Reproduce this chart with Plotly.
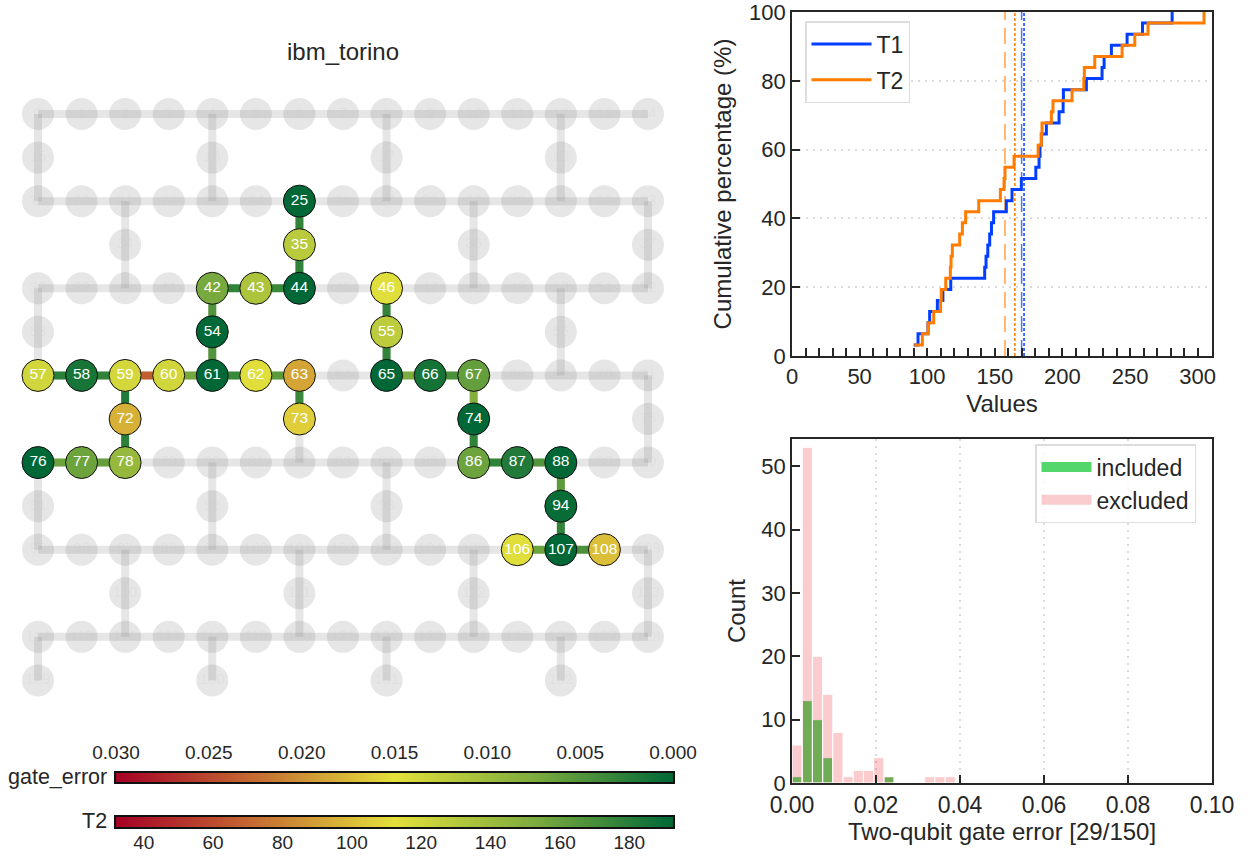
import numpy as np
import plotly.graph_objects as go
from plotly.colors import sample_colorscale

W, H = 1254, 859

# ---------- data ----------
qubits = [25, 35, 42, 43, 44, 46, 54, 55, 57, 58, 59, 60, 61, 62, 63, 65,
          66, 67, 72, 73, 74, 76, 77, 78, 86, 87, 88, 94, 106, 107, 108]
qubit_t2 = [195, 129, 154, 134, 195, 114, 195, 128, 120, 185, 119, 120, 195, 114, 92, 195,
            186, 160, 96, 106, 195, 195, 158, 143, 158, 182, 195, 190, 114, 195, 101]

edge_src = [25, 35, 42, 43, 42, 54, 57, 58, 59, 60, 61, 62, 63, 59, 72, 76, 77,
            46, 55, 65, 66, 67, 74, 86, 87, 88, 94, 106, 107]
edge_dst = [35, 44, 43, 44, 54, 61, 58, 59, 60, 61, 62, 63, 73, 72, 78, 77, 78,
            55, 65, 66, 67, 74, 86, 87, 88, 94, 107, 107, 108]
edge_error = [.003, .003, .003, .0035, .005, .005, .0025, .003, .0235, .007, .0035, .0055, .0035, .002, .0025, .0065, .006,
              .003, .003, .0075, .0045, .008, .003, .003, .005, .0055, .003, .0065, .0045]

t1_values = [90.0, 93.2, 100.6, 101.8, 107.5, 111.6, 117.4, 142.5, 143.5, 144.8, 146.2, 147.5, 149.1,
             158.5, 162.7, 169.6, 180.3, 182.7, 183.4, 184.4, 188.1, 197.5, 200.5, 200.7,
             217.7, 229.3, 230.8, 236.2, 247.8, 259.2, 281.1]
t2_values = [90.4, 96.4, 100.6, 104.8, 109.9, 110.4, 113.7, 117.1, 117.6, 118.6, 124.0, 126.0, 128.4,
             138.1, 154.1, 156.8, 157.5, 164.2, 182.0, 184.4, 184.9, 191.8, 193.0, 207.1,
             215.8, 216.2, 223.9, 244.1, 253.5, 263.3, 304.7]
t1_median, t1_mean = 169.8, 171.6
t2_median, t2_mean = 157.5, 164.8

hist_bins = [0.00122, 0.00365, 0.00608, 0.00851, 0.01094, 0.01337, 0.0158, 0.01823, 0.02066,
             0.02309, 0.03281, 0.03524, 0.03767]
hist_included = [1, 13, 10, 4, 0, 0, 0, 0, 0, 1, 0, 0, 0]
hist_excluded = [6, 53, 20, 14, 8, 1, 2, 2, 4, 1, 1, 1, 1]
hist_width = 0.00243

gate_ticks = [0.030, 0.025, 0.020, 0.015, 0.010, 0.005, 0.000]
t2_ticks = [40, 60, 80, 100, 120, 140, 160, 180]
gate_range = [0.030, 0.0]
t2_range = [32.0, 192.6]

# ---------- style ----------
FONT = "Liberation Sans"
INK = "#262626"
BLUE, ORANGE = "#023eff", "#ff7c00"
SCALE = [[0.0, "rgb(165,0,38)"], [0.25, "rgb(197,108,50)"], [0.5, "rgb(228,224,58)"],
         [0.75, "rgb(125,172,62)"], [1.0, "rgb(0,104,55)"]]


def dom_x(a, b):
    return [a / W, b / W]


def dom_y(top, bottom):
    return [1 - bottom / H, 1 - top / H]


# ---------- heavy-hex device layout (ibm_torino) ----------
H_STARTS = [0, 19, 38, 57, 76, 95, 114]
LINK_STARTS = [15, 34, 53, 72, 91, 110, 129]
LINK_COLS = [[0, 4, 8, 12], [2, 6, 10, 14]]
pos = {}
links = []
for r, s in enumerate(H_STARTS):
    for c in range(15):
        pos[s + c] = (c, 2 * r)
        if c:
            links.append((s + c - 1, s + c))
for r, s in enumerate(LINK_STARTS):
    for i, c in enumerate(LINK_COLS[r % 2]):
        q = s + i
        pos[q] = (c, 2 * r + 1)
        links.append((H_STARTS[r] + c, q))
        if r + 1 < len(H_STARTS):
            links.append((q, H_STARTS[r + 1] + c))

fig = go.Figure()

# background device
bx, by = [], []
for a, b in links:
    bx += [pos[a][0], pos[b][0], None]
    by += [pos[a][1], pos[b][1], None]
fig.add_trace(go.Scatter(x=bx, y=by, mode="lines", showlegend=False, hoverinfo="skip",
                         line=dict(color="rgba(128,128,128,0.2)", width=8), xaxis="x", yaxis="y"))
all_q = sorted(pos)
fig.add_trace(go.Scatter(x=[pos[q][0] for q in all_q], y=[pos[q][1] for q in all_q],
                         mode="markers+text", text=[str(q) for q in all_q], showlegend=False, hoverinfo="skip",
                         textfont=dict(family=FONT, size=15, color="rgba(200,200,200,0.2)"),
                         marker=dict(size=32, color="rgba(128,128,128,0.2)", line=dict(width=0)),
                         xaxis="x", yaxis="y"))
# active edges
for a, b, e in zip(edge_src, edge_dst, edge_error):
    t = (gate_range[0] - e) / (gate_range[0] - gate_range[1])
    col = sample_colorscale(SCALE, [t])[0]
    fig.add_trace(go.Scatter(x=[pos[a][0], pos[b][0]], y=[pos[a][1], pos[b][1]], mode="lines",
                             showlegend=False, line=dict(color=col, width=8), xaxis="x", yaxis="y",
                             hovertemplate=f"{a}-{b}: {e}<extra></extra>"))
# active qubits
fig.add_trace(go.Scatter(x=[pos[q][0] for q in qubits], y=[pos[q][1] for q in qubits],
                         mode="markers+text", text=[str(q) for q in qubits], showlegend=False,
                         textposition="middle center",
                         textfont=dict(family=FONT, size=15.5, color="white"),
                         marker=dict(size=32, color=qubit_t2, cmin=t2_range[0], cmax=t2_range[1],
                                     colorscale=SCALE, line=dict(width=1, color="#111111")),
                         xaxis="x", yaxis="y"))

# colour ramps (legend gradients, not data)
gate_ramp = np.linspace(gate_range[0], gate_range[1], 256)
t2_ramp = np.linspace(t2_range[0], t2_range[1], 256)
fig.add_trace(go.Heatmap(x=gate_ramp, y=[0], z=[gate_ramp], zmin=0, zmax=0.03, showscale=False,
                         colorscale=[[1 - p, c] for p, c in reversed(SCALE)], xaxis="x4", yaxis="y4", hoverinfo="skip"))
fig.add_trace(go.Heatmap(x=t2_ramp, y=[0], z=[t2_ramp], zmin=t2_range[0], zmax=t2_range[1], showscale=False,
                         colorscale=SCALE, xaxis="x5", yaxis="y5", hoverinfo="skip"))

# CDF panel
for v, col, dash, w, op in [(t2_median, ORANGE, "16px,8px", 1.5, .7), (t2_mean, ORANGE, "3px,2px", 1.5, 1),
                            (t1_median, BLUE, "16px,8px", 1.5, .7), (t1_mean, BLUE, "3px,2px", 1.5, 1)]:
    fig.add_trace(go.Scatter(x=[v, v], y=[0, 100], mode="lines", showlegend=False, opacity=op,
                             line=dict(color=col, width=w, dash=dash), xaxis="x2", yaxis="y2"))
for name, vals, col in [("T1", t1_values, BLUE), ("T2", t2_values, ORANGE)]:
    pct = [100 * (i + 1) / len(vals) for i in range(len(vals))]
    fig.add_trace(go.Scatter(x=vals, y=pct, mode="lines", name=name, legendgroup=name,
                             line=dict(color=col, width=3, shape="hv"), xaxis="x2", yaxis="y2", legend="legend"))

# histogram panel
GREEN_BAR, RED_BAR = "rgba(26,201,56,0.75)", "rgba(232,0,11,0.2)"
fig.add_trace(go.Bar(x=hist_bins, y=hist_included, width=hist_width, name="included", showlegend=False,
                     marker=dict(color=GREEN_BAR, line=dict(color="white", width=1)),
                     xaxis="x3", yaxis="y3"))
fig.add_trace(go.Bar(x=hist_bins, y=hist_excluded, width=hist_width, name="excluded", showlegend=False,
                     marker=dict(color=RED_BAR, line=dict(color="white", width=1)),
                     xaxis="x3", yaxis="y3"))
# wide legend swatches for the two histogram series
for name, col in [("included", GREEN_BAR), ("excluded", RED_BAR)]:
    fig.add_trace(go.Scatter(x=[None], y=[None], mode="lines", name=name, legendgroup=name,
                             line=dict(color=col, width=13), xaxis="x3", yaxis="y3", legend="legend2"))

UNIT = 43.57
box = dict(showline=True, linecolor=INK, linewidth=1.8, mirror=True, zeroline=False,
           tickcolor=INK, tickwidth=1.5, ticks="inside", ticklen=8, ticklabeloverflow="allow")
tick_font = dict(family=FONT, size=22, color=INK)
tick_font_b = dict(family=FONT, size=23, color=INK)
title_font = dict(family=FONT, size=24, color=INK)
grid = dict(showgrid=True, gridcolor="#dcdcdc", griddash="2px,5px", gridwidth=2)
bar_line = dict(showline=True, linecolor="#111111", linewidth=2, mirror=True, showgrid=False, zeroline=False)

fig.update_layout(
    width=W, height=H, margin=dict(l=0, r=0, t=0, b=0, autoexpand=False), autosize=False,
    paper_bgcolor="white", plot_bgcolor="white", barmode="overlay",
    font=dict(family=FONT, color=INK),
    xaxis=dict(domain=dom_x(0, 700), range=[-38 / UNIT, (700 - 38) / UNIT], visible=False),
    yaxis=dict(domain=dom_y(70, 720), range=[(720 - 114) / UNIT, (70 - 114) / UNIT], visible=False),
    xaxis2=dict(domain=dom_x(792, 1212), range=[0, 310.6], anchor="y2", showgrid=False,
                tickvals=[0, 50, 100, 150, 200, 250, 300], tickfont=tick_font,
                minor=dict(dtick=10, tick0=0, ticks="inside", ticklen=8, tickcolor=INK, tickwidth=1.5, showgrid=False),
                title=dict(text="Values", font=title_font, standoff=7), **box),
    yaxis2=dict(domain=dom_y(12, 356), range=[0, 100], anchor="x2", tickvals=[0, 20, 40, 60, 80, 100],
                tickfont=tick_font,
                title=dict(text="Cumulative percentage (%)", font=title_font, standoff=11), **grid, **box),
    xaxis3=dict(domain=dom_x(792, 1212), range=[0, 0.1], anchor="y3", tickvals=[0, .02, .04, .06, .08, .1],
                tickfont=tick_font_b, tickformat=".2f",
                title=dict(text="Two-qubit gate error [29/150]", font=title_font, standoff=7),
                **grid, **box),
    yaxis3=dict(domain=dom_y(439, 783), range=[0, 54.3], anchor="x3", showgrid=False,
                tickvals=[0, 10, 20, 30, 40, 50], tickfont=tick_font,
                title=dict(text="Count", font=title_font, standoff=9), **box),
    xaxis4=dict(domain=dom_x(116, 673), range=gate_range, anchor="y4", side="top", tickvals=gate_ticks,
                tickformat=".3f", ticks="outside", ticklen=4, tickcolor="rgba(0,0,0,0)",
                ticklabeloverflow="allow", tickfont=dict(family=FONT, size=19, color=INK), **bar_line),
    yaxis4=dict(domain=dom_y(773, 782), range=[-0.5, 0.5], anchor="x4", showticklabels=False, ticks="", **bar_line),
    xaxis5=dict(domain=dom_x(116, 673), range=t2_range, anchor="y5", side="bottom", tickvals=t2_ticks,
                ticks="", ticklabelstandoff=-3, ticklabeloverflow="allow",
                tickfont=dict(family=FONT, size=19, color=INK), **bar_line),
    yaxis5=dict(domain=dom_y(817, 827), range=[-0.5, 0.5], anchor="x5", showticklabels=False, ticks="", **bar_line),
    legend=dict(x=805 / W, y=1 - 21 / H, xanchor="left", yanchor="top", bgcolor="rgba(255,255,255,0.8)",
                bordercolor="#dddddd", borderwidth=1.5, itemwidth=60, tracegroupgap=3,
                entrywidth=52, entrywidthmode="pixels",
                font=dict(family=FONT, size=23, color=INK)),
    legend2=dict(x=1035 / W, y=1 - 444 / H, xanchor="left", yanchor="top", bgcolor="rgba(255,255,255,0.8)",
                 bordercolor="#dddddd", borderwidth=1.5, itemwidth=50, tracegroupgap=0,
                 entrywidth=106, entrywidthmode="pixels",
                 font=dict(family=FONT, size=23, color=INK)),
    annotations=[
        dict(text="ibm_torino", x=343 / W, y=1 - 52 / H, xref="paper", yref="paper", showarrow=False,
             xanchor="center", yanchor="middle", font=dict(family=FONT, size=24, color=INK)),
        dict(text="gate_error", x=109 / W, y=1 - 777 / H, xref="paper", yref="paper", showarrow=False,
             xanchor="right", yanchor="middle", font=dict(family=FONT, size=21.5, color=INK)),
        dict(text="T2", x=109 / W, y=1 - 821 / H, xref="paper", yref="paper", showarrow=False,
             xanchor="right", yanchor="middle", font=dict(family=FONT, size=21.5, color=INK)),
    ],
)
fig.write_html("out.html", post_script="document.body.style.margin='0';",
               config={"displayModeBar": False})
